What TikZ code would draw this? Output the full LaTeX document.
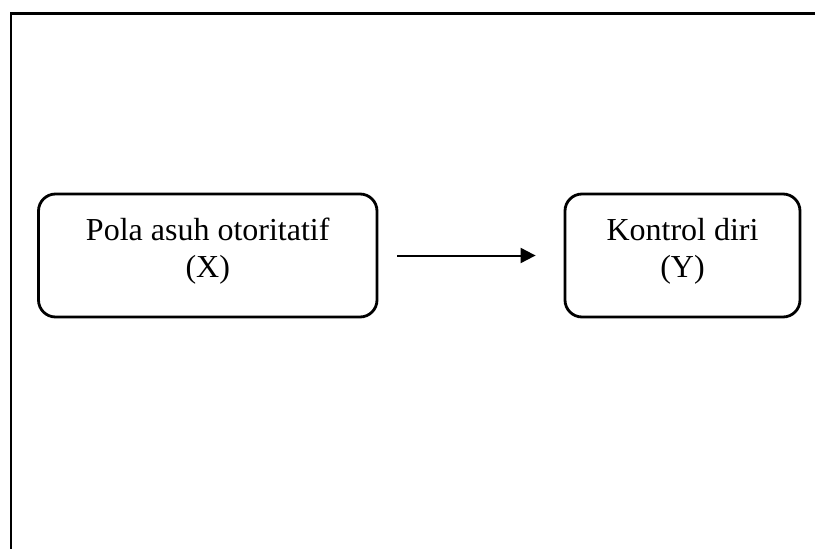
\documentclass[tikz,border=0pt]{standalone}
\usepackage{fontspec}
\setmainfont{Liberation Serif}
\usetikzlibrary{positioning}
\usetikzlibrary{arrows.meta}

\begin{document}
\begin{tikzpicture}[x=1pt, y=-1pt,
varbox/.style={draw, line width=2.8pt, rounded corners=17pt, align=center,
  font=\fontsize{32}{37}\selectfont, minimum height=123pt, text depth=15pt, inner sep=0pt},
varline/.style={line width=2pt, -{Triangle[length=15pt,width=15pt]}, shorten <=19pt, shorten >=28pt}]

\clip (0,0) rectangle (815,549);

%outer frame%
\draw[line width=2.8pt] (11,13.5) rectangle (840,580);

%variables%
\node[varbox, minimum width=338.5pt] (polaasuh) at (207.75,255.5) {Pola asuh otoritatif\\(X)};
\node[varbox, minimum width=235pt] (kontrol) at (682.5,255.5) {Kontrol diri\\(Y)};

%relation X to Y%
\draw[varline] (polaasuh) -- (kontrol);

\end{tikzpicture}
\end{document}
